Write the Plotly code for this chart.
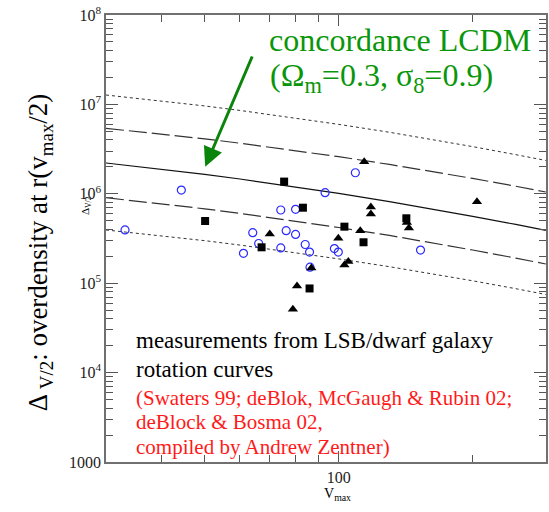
import plotly.graph_objects as go

# ---------------- data ----------------
# model curves (concordance LCDM: median, +-1 sigma dashed, +-2 sigma dotted)
v_model = [30, 40, 50, 60, 80, 100, 130, 160, 200, 250, 292]
delta_median = [2.211e6, 1.887e6, 1.648e6, 1.463e6, 1.196e6, 1.010e6, 8.18e5, 6.85e5, 5.60e5, 4.54e5, 3.89e5]
delta_up1 = [5.40e6, 4.67e6, 4.12e6, 3.68e6, 3.05e6, 2.60e6, 2.13e6, 1.80e6, 1.486e6, 1.215e6, 1.048e6]
delta_lo1 = [9.04e5, 7.75e5, 6.79e5, 6.04e5, 4.96e5, 4.20e5, 3.42e5, 2.87e5, 2.35e5, 1.91e5, 1.64e5]
delta_up2 = [1.274e7, 1.094e7, 9.61e6, 8.56e6, 7.05e6, 5.98e6, 4.88e6, 4.10e6, 3.37e6, 2.74e6, 2.36e6]
delta_lo2 = [3.94e5, 3.39e5, 2.99e5, 2.67e5, 2.20e5, 1.87e5, 1.53e5, 1.29e5, 1.064e5, 8.68e4, 7.48e4]

# observed galaxies
sq_v = [75.4, 50.1, 67.1, 83.1, 86.0, 103.0, 113.7, 141.9]
sq_d = [1.37e6, 4.96e5, 2.52e5, 6.99e5, 8.73e4, 4.29e5, 2.87e5, 5.32e5]

tri_v = [70.0, 80.6, 78.9, 86.8, 103.0, 105.1, 99.8, 111.8, 118.1, 118.1, 142.3, 143.8, 114.1, 204.5]
tri_d = [3.55e5, 9.3e4, 5.1e4, 1.48e5, 1.60e5, 1.75e5, 3.18e5, 3.87e5, 7.12e5, 5.94e5, 4.78e5, 4.14e5, 2.29e6, 8.16e5]

circ_v = [33.1, 44.3, 61.1, 64.1, 66.1, 74.1, 80.0, 74.1, 76.2, 80.0, 84.1, 86.0, 86.2, 93.2, 109.0, 97.8, 99.8, 152.7]
circ_d = [3.94e5, 1.10e6, 2.16e5, 3.67e5, 2.78e5, 6.59e5, 6.71e5, 2.48e5, 3.87e5, 3.51e5, 2.71e5, 2.23e5, 1.51e5, 1.03e6, 1.72e6, 2.44e5, 2.23e5, 2.35e5]

# axis ticks
y_tickvals = [1e3, 1e4, 1e5, 1e6, 1e7, 1e8]
y_ticktext = ["1000", "10<sup>4</sup>", "10<sup>5</sup>", "10<sup>6</sup>", "10<sup>7</sup>", "10<sup>8</sup>"]
x_tickvals = [100]
x_ticktext = ["100"]
x_minor = [40, 50, 60, 70, 80, 90, 200]
y_minor = [m * 10 ** e for e in range(3, 8) for m in range(2, 10)]

# ---------------- layout geometry ----------------
W, H = 549, 512
L, R, T, B = 106, 1, 15, 50
PW, PH = W - L - R, H - T - B


def px(x):
    return (x - L) / PW


def py(y):
    return (H - B - y) / PH


SERIF = "Liberation Serif, Times New Roman, Times, serif"
GREEN = "#0a960a"

fig = go.Figure()

line_dark = "#333333"
fig.add_trace(go.Scatter(x=v_model, y=delta_up2, mode="lines",
                         line=dict(color=line_dark, width=1, dash="dot"), showlegend=False))
fig.add_trace(go.Scatter(x=v_model, y=delta_up1, mode="lines",
                         line=dict(color=line_dark, width=1.2, dash="18px,5px"), showlegend=False))
fig.add_trace(go.Scatter(x=v_model, y=delta_median, mode="lines",
                         line=dict(color="#111111", width=1.2), showlegend=False))
fig.add_trace(go.Scatter(x=v_model, y=delta_lo1, mode="lines",
                         line=dict(color=line_dark, width=1.2, dash="18px,5px"), showlegend=False))
fig.add_trace(go.Scatter(x=v_model, y=delta_lo2, mode="lines",
                         line=dict(color=line_dark, width=1, dash="dot"), showlegend=False))

fig.add_trace(go.Scatter(x=circ_v, y=circ_d, mode="markers",
                         marker=dict(symbol="circle-open", size=8, color="#2a2aff",
                                     line=dict(width=1.2, color="#2a2aff")), showlegend=False))
fig.add_trace(go.Scatter(x=sq_v, y=sq_d, mode="markers",
                         marker=dict(symbol="square", size=8, color="black"), showlegend=False))
fig.add_trace(go.Scatter(x=tri_v, y=tri_d, mode="markers",
                         marker=dict(symbol="triangle-up", size=9, color="black"), showlegend=False))

axis_common = dict(showline=True, linecolor="#707070", linewidth=1.5, mirror="allticks",
                   ticks="inside", tickcolor="#555555", showgrid=False, zeroline=False,
                   tickfont=dict(family=SERIF, size=16, color="#222222"))

fig.update_xaxes(type="log", range=[1.47712, 2.4658], tickmode="array",
                 tickvals=x_tickvals, ticktext=x_ticktext, ticklen=11, tickwidth=1,
                 minor=dict(tickmode="array", tickvals=x_minor, ticks="inside", ticklen=7,
                            tickcolor="#555555", showgrid=False),
                 **axis_common)
fig.update_yaxes(type="log", range=[3, 8], tickmode="array",
                 tickvals=y_tickvals, ticktext=y_ticktext, ticklen=12, tickwidth=1,
                 minor=dict(tickmode="array", tickvals=y_minor, ticks="inside", ticklen=7,
                            tickcolor="#555555", showgrid=False),
                 **axis_common)

ann = []
# green model label
ann.append(dict(x=px(268), y=py(40), xref="paper", yref="paper", xanchor="left", yanchor="middle",
                text="concordance LCDM", showarrow=False,
                font=dict(family=SERIF, size=32, color=GREEN)))
ann.append(dict(x=px(269), y=py(77), xref="paper", yref="paper", xanchor="left", yanchor="middle",
                text="(Ω<sub>m</sub>=0.3, σ<sub>8</sub>=0.9)", showarrow=False,
                font=dict(family=SERIF, size=32, color=GREEN)))
# green arrow
ann.append(dict(x=px(205.7), y=py(166.7), xref="paper", yref="paper", text="",
                showarrow=True, ax=47.6, ay=-111.7, axref="pixel", ayref="pixel",
                arrowhead=2, arrowsize=1.3, arrowwidth=3, arrowcolor="#0b840b", standoff=0))
# black / red notes
ann.append(dict(x=px(134), y=py(340), xref="paper", yref="paper", xanchor="left", yanchor="middle",
                text="measurements from LSB/dwarf galaxy", showarrow=False,
                font=dict(family=SERIF, size=23, color="black")))
ann.append(dict(x=px(134), y=py(369), xref="paper", yref="paper", xanchor="left", yanchor="middle",
                text="rotation curves", showarrow=False,
                font=dict(family=SERIF, size=23, color="black")))
red_lines = ["(Swaters 99; deBlok, McGaugh &amp; Rubin 02;", "deBlock &amp; Bosma 02,",
             "compiled by Andrew Zentner)"]
for txt, yb in zip(red_lines, [398, 422, 447]):
    ann.append(dict(x=px(134), y=py(yb), xref="paper", yref="paper", xanchor="left", yanchor="middle",
                    text=txt, showarrow=False,
                    font=dict(family=SERIF, size=21, color="#ff1a1a")))
# axis titles
ann.append(dict(x=px(40), y=py(252), xref="paper", yref="paper", xanchor="center", yanchor="middle",
                text="Δ<sub> V/2</sub>: overdensity at r(v<sub>max</sub>/2)", textangle=-90,
                showarrow=False, font=dict(family=SERIF, size=27, color="black")))
ann.append(dict(x=px(86), y=py(206), xref="paper", yref="paper", xanchor="center", yanchor="middle",
                text="Δ<sub>V/2</sub>", textangle=-90,
                showarrow=False, font=dict(family=SERIF, size=11, color="black")))
ann.append(dict(x=px(339), y=py(494), xref="paper", yref="paper", xanchor="center", yanchor="middle",
                text="V<sub>max</sub>", showarrow=False,
                font=dict(family=SERIF, size=14, color="black")))

fig.update_layout(width=W, height=H, margin=dict(l=L, r=R, t=T, b=B, pad=0),
                  plot_bgcolor="white", paper_bgcolor="white", annotations=ann,
                  font=dict(family=SERIF), showlegend=False)

fig.write_html("out.html")
